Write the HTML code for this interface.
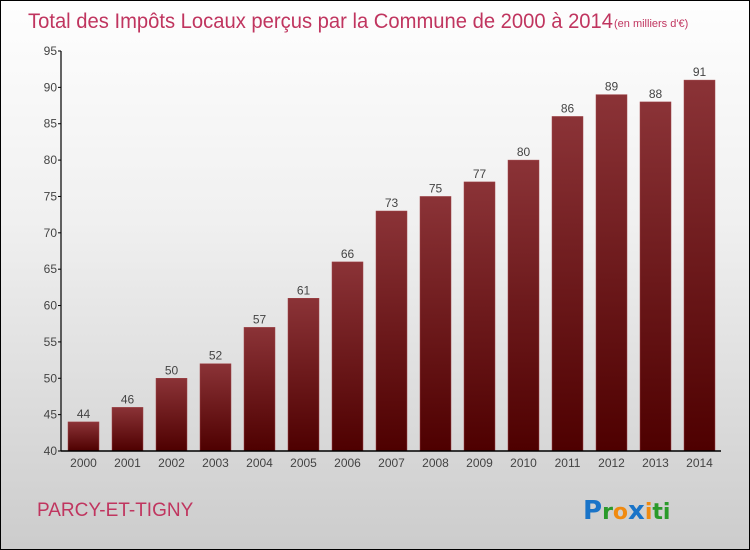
<!DOCTYPE html>
<html><head><meta charset="utf-8"><style>
body{margin:0;}
#wrap{width:748px;height:548px;border:1px solid #000;background:linear-gradient(#fefefe,#f0f0f0 40%,#cccccc);position:relative;font-family:"Liberation Sans",sans-serif;overflow:hidden}
svg{position:absolute;left:0;top:0}
</style></head><body>
<div id="wrap">
<svg id="c" width="750" height="550">
<defs><linearGradient id="g" x1="0" y1="0" x2="0" y2="1"><stop offset="0" stop-color="#8b3337"/><stop offset="1" stop-color="#4e0000"/></linearGradient></defs>
<text x="27" y="27" font-size="21" fill="#c0355f" font-weight="300" textLength="585" lengthAdjust="spacingAndGlyphs">Total des Impôts Locaux perçus par la Commune de 2000 à 2014</text>
<text x="613" y="26" font-size="11" fill="#c0355f">(en milliers d'€)</text>
<text x="36" y="515" font-size="19" fill="#c0355f">PARCY-ET-TIGNY</text>
<g font-size="26" font-family="'DejaVu Sans',sans-serif" font-weight="bold">
<text x="582" y="518"><tspan fill="#1a74c8">P</tspan><tspan fill="#2a9a2a" font-size="22">r</tspan><tspan fill="#f08a10" font-size="22">o</tspan><tspan fill="#1a74c8">x</tspan><tspan fill="#f08a10" font-size="22">i</tspan><tspan fill="#2a9a2a" font-size="22">ti</tspan></text>
</g>
</svg>
</div>
<script>
const years=["2000","2001","2002","2003","2004","2005","2006","2007","2008","2009","2010","2011","2012","2013","2014"];
const values=[44,46,50,52,57,61,66,73,75,77,80,86,89,88,91];
const yTicks=[40,45,50,55,60,65,70,75,80,85,90,95];
const svg=document.getElementById('c');const NS='http://www.w3.org/2000/svg';
const y0=450,y1=50,vmin=40,vmax=95;
const yS=v=>y0-(v-vmin)/(vmax-vmin)*(y0-y1);
const xS=i=>67+i*44;const bw=31;
function mk(t,a){const e=document.createElementNS(NS,t);for(const k in a)e.setAttribute(k,a[k]);svg.appendChild(e);return e;}
values.forEach((v,i)=>{
 const r=mk('rect',{x:xS(i),y:yS(v),width:bw,height:y0-yS(v),fill:'url(#g)',stroke:'#a04448','stroke-width':0.5});
 
 
 const t=mk('text',{x:xS(i)+bw/2,y:yS(v)-4,'font-size':12,fill:'#444','text-anchor':'middle'});t.textContent=v;
 
 
 const xl=mk('text',{x:xS(i)+bw/2,y:466,'font-size':12,fill:'#444','text-anchor':'middle'});xl.textContent=years[i];
 
 
});
yTicks.forEach(v=>{
 const l=mk('line',{x1:57,x2:60,y1:yS(v),y2:yS(v),stroke:'#000'});
 
 
 const t=mk('text',{x:56,y:yS(v)+4,'font-size':12,fill:'#444','text-anchor':'end'});t.textContent=v;
 
 
});
const ya=mk('line',{x1:60,x2:60,y1:50,y2:450,stroke:'#000','stroke-width':1.2});


const xa=mk('line',{x1:60,x2:720,y1:450,y2:450,stroke:'#000','stroke-width':1.5});


</script>
</body></html>
